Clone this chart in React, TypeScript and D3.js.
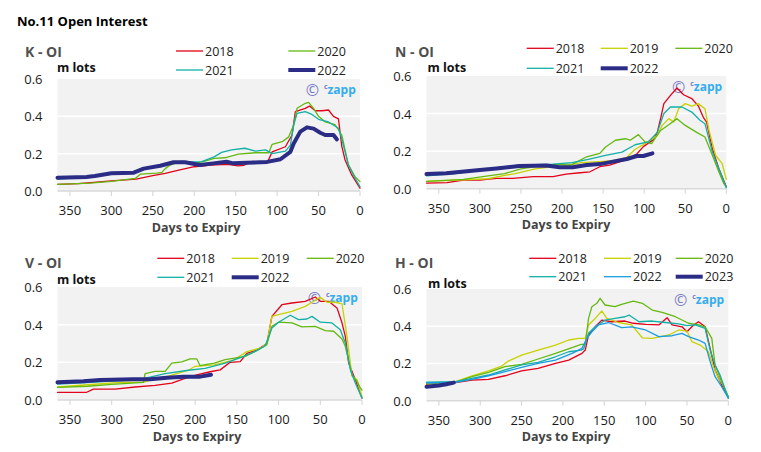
import React from "react";
import * as d3 from "d3";

type Pt = [number, number];

// ---------- data: [days to expiry, open interest (m lots)] ----------
const K_2018: Pt[] = [[365,0.036],[340,0.04],[325,0.045],[300,0.054],[270,0.064],[250,0.082],[235,0.095],[220,0.11],[200,0.13],[180,0.139],[160,0.143],[147,0.135],[140,0.138],[130,0.158],[120,0.155],[111,0.16],[106,0.21],[90,0.237],[82,0.30],[78,0.425],[66,0.443],[61,0.455],[54,0.43],[46,0.43],[38,0.434],[32,0.40],[26,0.386],[22,0.24],[18,0.166],[10,0.086],[0,0.015]];
const K_2020: Pt[] = [[365,0.035],[325,0.042],[300,0.052],[271,0.068],[265,0.09],[245,0.096],[239,0.10],[235,0.12],[229,0.139],[215,0.16],[199,0.148],[187,0.16],[176,0.175],[163,0.178],[147,0.198],[126,0.205],[110,0.205],[106,0.25],[94,0.264],[86,0.29],[80,0.353],[76,0.443],[66,0.47],[62,0.475],[56,0.443],[50,0.40],[42,0.37],[30,0.355],[22,0.30],[14,0.14],[6,0.077],[0,0.05]];
const K_2021: Pt[] = [[365,0.064],[330,0.074],[300,0.091],[275,0.096],[262,0.118],[245,0.135],[225,0.152],[210,0.156],[191,0.157],[176,0.183],[167,0.207],[155,0.22],[139,0.229],[126,0.214],[114,0.22],[106,0.20],[90,0.214],[84,0.246],[80,0.353],[76,0.416],[66,0.425],[58,0.41],[50,0.384],[38,0.37],[26,0.336],[22,0.28],[14,0.14],[8,0.086],[0,0.023]];
const K_2022: Pt[] = [[365,0.071],[330,0.075],[320,0.08],[300,0.095],[273,0.098],[261,0.12],[241,0.135],[225,0.154],[211,0.154],[193,0.139],[177,0.148],[161,0.157],[153,0.148],[137,0.151],[120,0.154],[112,0.156],[96,0.17],[84,0.21],[80,0.255],[72,0.318],[64,0.341],[56,0.334],[48,0.312],[42,0.30],[32,0.30],[28,0.277]];

const N_2018: Pt[] = [[365,0.03],[340,0.032],[320,0.046],[300,0.046],[280,0.055],[260,0.055],[235,0.064],[211,0.064],[195,0.078],[178,0.085],[166,0.09],[154,0.117],[142,0.126],[121,0.156],[109,0.185],[101,0.224],[89,0.26],[84,0.30],[80,0.373],[76,0.453],[68,0.497],[60,0.536],[52,0.50],[42,0.48],[34,0.44],[28,0.38],[24,0.355],[17,0.213],[9,0.106],[0,0.01]];
const N_2019: Pt[] = [[365,0.039],[290,0.053],[270,0.071],[257,0.08],[233,0.106],[211,0.117],[192,0.124],[177,0.139],[154,0.144],[138,0.149],[121,0.167],[111,0.21],[99,0.24],[84,0.284],[78,0.337],[70,0.373],[64,0.355],[58,0.426],[50,0.453],[42,0.44],[34,0.453],[26,0.426],[21,0.31],[13,0.178],[5,0.133],[0,0.05]];
const N_2020: Pt[] = [[365,0.039],[320,0.05],[290,0.068],[270,0.08],[250,0.106],[217,0.128],[187,0.131],[170,0.17],[154,0.188],[147,0.222],[135,0.258],[123,0.266],[117,0.258],[107,0.288],[99,0.249],[91,0.24],[80,0.31],[70,0.34],[60,0.373],[50,0.337],[36,0.30],[26,0.275],[17,0.178],[9,0.089],[3,0.027],[0,0.01]];
const N_2021: Pt[] = [[365,0.068],[330,0.08],[300,0.10],[252,0.126],[211,0.131],[188,0.139],[168,0.156],[147,0.178],[127,0.195],[111,0.234],[95,0.249],[84,0.30],[76,0.40],[68,0.435],[54,0.435],[42,0.408],[32,0.364],[26,0.346],[17,0.195],[9,0.106],[0,0.005]];
const N_2022: Pt[] = [[365,0.078],[341,0.082],[300,0.10],[280,0.108],[252,0.121],[219,0.123],[203,0.114],[187,0.114],[170,0.126],[154,0.131],[138,0.144],[121,0.158],[109,0.174],[101,0.174],[90,0.188]];

const V_2018: Pt[] = [[365,0.041],[330,0.041],[322,0.058],[296,0.058],[272,0.069],[248,0.078],[228,0.09],[208,0.122],[198,0.133],[182,0.15],[170,0.16],[158,0.20],[146,0.204],[138,0.248],[126,0.265],[114,0.30],[108,0.444],[96,0.506],[84,0.515],[68,0.524],[56,0.547],[50,0.524],[40,0.524],[30,0.489],[24,0.41],[20,0.338],[16,0.196],[8,0.108],[0,0.01]];
const V_2019: Pt[] = [[365,0.069],[329,0.081],[288,0.094],[262,0.094],[254,0.106],[234,0.124],[208,0.158],[200,0.179],[177,0.187],[154,0.212],[138,0.257],[122,0.275],[114,0.30],[108,0.444],[100,0.453],[84,0.471],[68,0.497],[56,0.53],[50,0.545],[42,0.519],[32,0.519],[24,0.511],[18,0.338],[12,0.126],[6,0.108],[0,0.017]];
const V_2020: Pt[] = [[365,0.067],[329,0.073],[300,0.083],[262,0.094],[260,0.14],[248,0.152],[236,0.152],[228,0.196],[216,0.202],[206,0.218],[198,0.218],[194,0.182],[184,0.191],[177,0.196],[164,0.214],[140,0.232],[124,0.267],[114,0.294],[108,0.391],[100,0.413],[84,0.409],[72,0.388],[56,0.391],[44,0.368],[34,0.365],[24,0.324],[20,0.285],[12,0.134],[6,0.099],[2,0.064],[0,0.053]];
const V_2021: Pt[] = [[365,0.085],[330,0.092],[300,0.10],[262,0.11],[258,0.117],[236,0.14],[208,0.158],[188,0.168],[164,0.196],[144,0.228],[128,0.258],[116,0.288],[108,0.382],[100,0.413],[86,0.45],[76,0.427],[66,0.43],[60,0.444],[50,0.413],[36,0.409],[26,0.373],[20,0.303],[14,0.161],[8,0.09],[0,0.01]];
const V_2022: Pt[] = [[365,0.094],[334,0.10],[314,0.106],[274,0.11],[254,0.11],[234,0.118],[214,0.124],[194,0.124],[181,0.134]];

const H_2018: Pt[] = [[365,0.088],[330,0.097],[310,0.111],[290,0.115],[270,0.134],[250,0.16],[230,0.174],[209,0.201],[193,0.218],[177,0.254],[173,0.272],[169,0.353],[161,0.397],[153,0.433],[141,0.424],[125,0.428],[115,0.416],[100,0.41],[84,0.407],[74,0.446],[68,0.407],[56,0.397],[50,0.37],[42,0.407],[36,0.424],[28,0.397],[22,0.281],[16,0.165],[8,0.084],[0,0.021]];
const H_2019: Pt[] = [[365,0.084],[330,0.102],[310,0.134],[290,0.16],[274,0.186],[266,0.213],[250,0.245],[230,0.272],[209,0.299],[193,0.326],[181,0.335],[173,0.335],[169,0.407],[161,0.442],[153,0.482],[147,0.442],[133,0.42],[117,0.407],[104,0.338],[92,0.335],[72,0.353],[60,0.38],[50,0.374],[44,0.317],[34,0.299],[24,0.263],[18,0.183],[12,0.12],[6,0.084],[0,0.021]];
const H_2020: Pt[] = [[365,0.095],[330,0.099],[310,0.129],[290,0.152],[270,0.183],[250,0.195],[230,0.224],[209,0.254],[189,0.285],[178,0.303],[173,0.303],[169,0.442],[165,0.505],[159,0.523],[155,0.55],[149,0.514],[137,0.505],[129,0.518],[115,0.535],[104,0.523],[92,0.487],[80,0.475],[64,0.451],[48,0.416],[36,0.407],[28,0.397],[20,0.335],[16,0.192],[8,0.102],[0,0.021]];
const H_2021: Pt[] = [[365,0.10],[330,0.102],[310,0.12],[290,0.138],[270,0.165],[250,0.192],[230,0.206],[209,0.236],[193,0.263],[178,0.272],[175,0.278],[169,0.362],[161,0.397],[149,0.433],[137,0.442],[125,0.451],[120,0.46],[117,0.451],[108,0.424],[92,0.428],[76,0.42],[60,0.413],[50,0.403],[40,0.407],[28,0.389],[22,0.272],[16,0.192],[10,0.138],[0,0.013]];
const H_2022: Pt[] = [[365,0.095],[330,0.099],[310,0.115],[290,0.134],[270,0.156],[250,0.179],[230,0.201],[209,0.218],[189,0.254],[177,0.281],[171,0.335],[165,0.37],[157,0.407],[145,0.42],[129,0.392],[117,0.397],[100,0.38],[84,0.344],[68,0.349],[56,0.362],[48,0.344],[36,0.326],[28,0.308],[22,0.21],[16,0.129],[8,0.075],[0,0.013]];
const H_2023: Pt[] = [[365,0.075],[350,0.082],[341,0.088],[332,0.097]];

const DAY_TICKS = [350, 300, 250, 200, 150, 100, 50, 0];
const OI_TICKS = [0, 0.2, 0.4, 0.6];
const GRID_TICKS = [0.2, 0.4];

const RED = "#e2001a";
const YELLOW = "#c8d200";
const GREEN = "#64b810";
const TEAL = "#12b0a6";
const NAVY = "#2a2c86";
const BLUE = "#1a9be0";

type Series = { label: string; color: string; thick?: boolean; data: Pt[] };
type Layout = {
  x0: number; x1: number; yTop: number; yBot: number;
  titleX: number; titleY: number; mX: number; mY: number;
  cols: number[]; rows: number[]; xLabelX: number;
};
type PanelDef = { title: string; series: Series[]; L: Layout };

const PANELS: PanelDef[] = [
  {
    title: "K - OI",
    series: [
      { label: "2018", color: RED, data: K_2018 },
      { label: "2020", color: GREEN, data: K_2020 },
      { label: "2021", color: TEAL, data: K_2021 },
      { label: "2022", color: NAVY, thick: true, data: K_2022 },
    ],
    L: { x0: 57.5, x1: 360, yTop: 79, yBot: 191, titleX: 25, titleY: 57, mX: 57, mY: 72, cols: [176, 288.3], rows: [51, 70], xLabelX: 196 },
  },
  {
    title: "N - OI",
    series: [
      { label: "2018", color: RED, data: N_2018 },
      { label: "2019", color: YELLOW, data: N_2019 },
      { label: "2020", color: GREEN, data: N_2020 },
      { label: "2021", color: TEAL, data: N_2021 },
      { label: "2022", color: NAVY, thick: true, data: N_2022 },
    ],
    L: { x0: 426.5, x1: 726.3, yTop: 76, yBot: 188.7, titleX: 395, titleY: 57, mX: 427.5, mY: 71.5, cols: [526.7, 600.7, 675.3], rows: [48.3, 68.3], xLabelX: 566 },
  },
  {
    title: "V - OI",
    series: [
      { label: "2018", color: RED, data: V_2018 },
      { label: "2019", color: YELLOW, data: V_2019 },
      { label: "2020", color: GREEN, data: V_2020 },
      { label: "2021", color: TEAL, data: V_2021 },
      { label: "2022", color: NAVY, thick: true, data: V_2022 },
    ],
    L: { x0: 57.5, x1: 362, yTop: 287, yBot: 400, titleX: 25, titleY: 267.7, mX: 57, mY: 284, cols: [157.3, 231.7, 306.7], rows: [258.3, 277.3], xLabelX: 197 },
  },
  {
    title: "H - OI",
    series: [
      { label: "2018", color: RED, data: H_2018 },
      { label: "2019", color: YELLOW, data: H_2019 },
      { label: "2020", color: GREEN, data: H_2020 },
      { label: "2021", color: TEAL, data: H_2021 },
      { label: "2022", color: BLUE, data: H_2022 },
      { label: "2023", color: NAVY, thick: true, data: H_2023 },
    ],
    L: { x0: 426.5, x1: 728.3, yTop: 289, yBot: 400.7, titleX: 395, titleY: 267.7, mX: 428, mY: 287.5, cols: [529.3, 604, 675.7], rows: [258.3, 276.7], xLabelX: 566 },
  },
];

const FONT = "'Open Sans', 'Noto Sans', sans-serif";
const fmt = d3.format(".1f");

function Panel({ p }: { p: PanelDef }) {
  const L = p.L;
  const x = d3.scaleLinear().domain([365, 0]).range([L.x0, L.x1]);
  const y = d3.scaleLinear().domain([0, 0.6]).range([L.yBot, L.yTop]);
  const line = d3.line<Pt>().x((d) => x(d[0])).y((d) => y(d[1]));
  const ncols = L.cols.length;
  return (
    <g>
      <text x={L.titleX} y={L.titleY} fontFamily={FONT} fontWeight={700} fontSize={14} fill="#505050">{p.title}</text>
      <text x={L.mX} y={L.mY} fontFamily={FONT} fontWeight={700} fontSize={12.5} fill="#111">m lots</text>
      {/* legend */}
      {p.series.map((s, i) => {
        const cx = L.cols[i % ncols];
        const cy = L.rows[Math.floor(i / ncols)];
        return (
          <g key={s.label}>
            <line x1={cx} x2={cx + 27} y1={cy} y2={cy} stroke={s.color} strokeWidth={s.thick ? 4 : 1.3} />
            <text x={cx + 29} y={cy} dominantBaseline="central" fontFamily={FONT} fontSize={12.5} fill="#222">{s.label}</text>
          </g>
        );
      })}
      {/* plot area */}
      <rect x={L.x0} y={L.yTop} width={L.x1 - L.x0} height={L.yBot - L.yTop} fill="#f2f2f2" />
      {GRID_TICKS.map((t) => (
        <line key={t} x1={L.x0} x2={L.x1} y1={y(t)} y2={y(t)} stroke="#ffffff" strokeWidth={1.5} />
      ))}
      <line x1={L.x0} x2={L.x1} y1={L.yBot} y2={L.yBot} stroke="#d9d9d9" strokeWidth={1.5} />
      {DAY_TICKS.map((t) => (
        <g key={t}>
          <line x1={x(t)} x2={x(t)} y1={L.yBot} y2={L.yBot + 5} stroke="#d4d4d4" strokeWidth={1} />
          <text x={x(t)} y={L.yBot + 24} textAnchor="middle" fontFamily={FONT} fontSize={13} fill="#1a1a1a">{t}</text>
        </g>
      ))}
      {OI_TICKS.map((t) => (
        <text key={t} x={L.x0 - 15} y={y(t)} textAnchor="end" dominantBaseline="central" fontFamily={FONT} fontSize={13} fill="#1a1a1a">{fmt(t)}</text>
      ))}
      <text x={L.xLabelX} y={L.yBot + 40.5} textAnchor="middle" fontFamily={FONT} fontWeight={700} fontSize={12.5} fill="#444">Days to Expiry</text>
      {/* watermark */}
      <text x={L.x1 - 47.7} y={L.yTop + 11} textAnchor="middle" dominantBaseline="central" fontFamily={FONT} fontSize={16} fill="#7a7ac8">©</text>
      <text x={L.x1 - 36} y={L.yTop + 10} fontFamily={FONT} fontSize={7} fontWeight={700} fill="#7a7ac8">c</text>
      <text x={L.x1 - 32.5} y={L.yTop + 14.5} fontFamily={FONT} fontWeight={700} fontSize={12} fill="#35adec">zapp</text>
      {/* series */}
      {p.series.map((s) => (
        <path key={s.label} d={line(s.data) || ""} fill="none" stroke={s.color} strokeWidth={s.thick ? 4 : 1.3} strokeLinejoin="round" strokeLinecap="round" />
      ))}
    </g>
  );
}

export default function App() {
  return (
    <div style={{ position: "absolute", left: 0, top: 0 }}>
      <svg width={761} height={452} style={{ display: "block", background: "#ffffff" }}>
        <text x={17} y={26} fontFamily={FONT} fontWeight={700} fontSize={13} fill="#000">No.11 Open Interest</text>
        {PANELS.map((p) => (
          <Panel key={p.title} p={p} />
        ))}
      </svg>
    </div>
  );
}
